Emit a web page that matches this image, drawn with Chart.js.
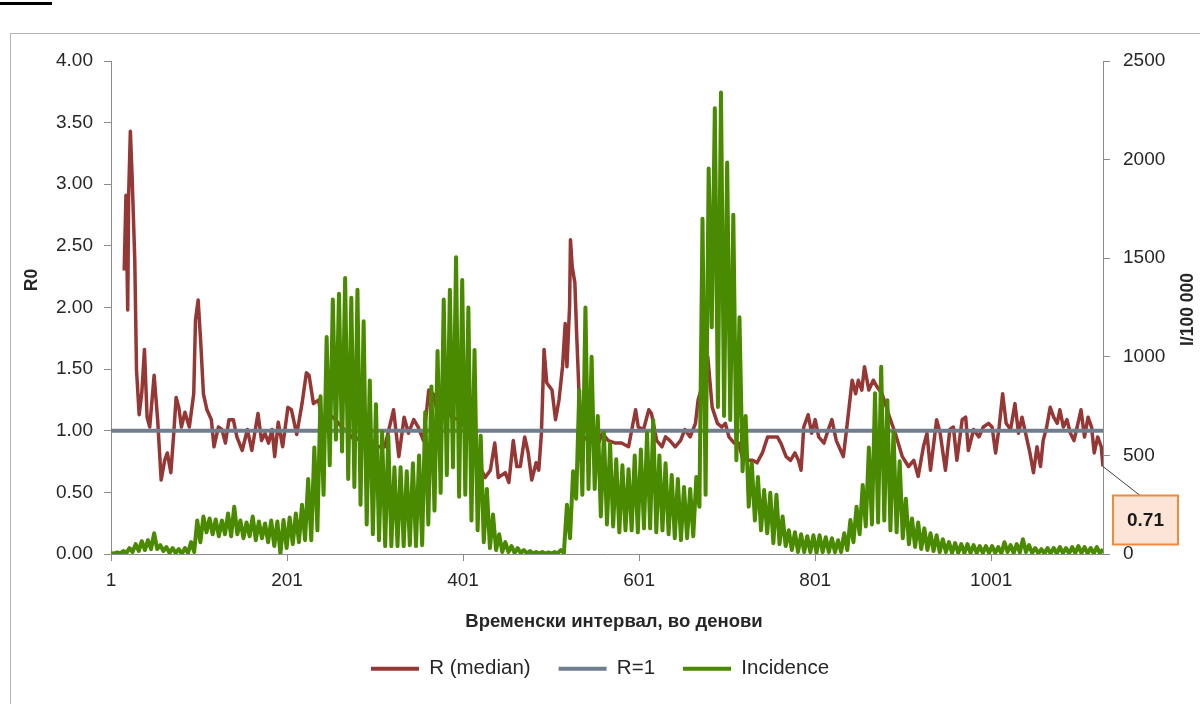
<!DOCTYPE html>
<html>
<head>
<meta charset="utf-8">
<script src="https://cdn.jsdelivr.net/npm/chart.js@4.4.1/dist/chart.umd.min.js"></script>
<style>
  html, body { margin: 0; padding: 0; background: #fff; }
  #wrap { width: 1200px; height: 704px; position: relative; }
</style>
</head>
<body>
<div id="wrap"><canvas id="chart" width="1200" height="704"></canvas></div>
<script>
// R (median): day -> value
const rDays = [
  16, 18, 20, 21, 23, 25, 28, 30, 33, 36,
  39, 42, 45, 50, 54, 58, 62, 65, 69, 72,
  75, 78, 81, 85, 90, 95, 97, 100, 103, 106,
  110, 115, 118, 123, 127, 131, 135, 140, 144, 150,
  156, 161, 168, 172, 176, 180, 184, 187, 191, 196,
  202, 206, 212, 218, 223, 226, 231, 237, 240, 248,
  256, 263, 271, 278, 290, 301, 312, 322, 328, 334,
  339, 345, 350, 356, 362, 367, 373, 381, 388, 396,
  403, 411, 418, 426, 432, 437, 441, 449, 453, 458,
  462, 466, 471, 475, 479, 484, 487, 490, 493, 496,
  502, 506, 510, 514, 517, 519, 522, 523, 525, 528,
  530, 533, 537, 547, 551, 559, 566, 574, 581, 589,
  597, 600, 606, 612, 615, 621, 627, 631, 636, 642,
  648, 653, 659, 665, 668, 674, 679, 684, 690, 695,
  699, 703, 709, 714, 718, 724, 730, 735, 741, 747,
  752, 758, 762, 768, 773, 778, 782, 785, 788, 793,
  797, 801, 805, 811, 816, 820, 825, 830, 833, 837,
  843, 847, 850, 854, 857, 862, 867, 871, 877, 886,
  892, 900, 907, 913, 918, 924, 928, 932, 939, 943,
  949, 954, 958, 962, 968, 972, 975, 981, 987, 992,
  998, 1002, 1006, 1010, 1014, 1018, 1023, 1028, 1032, 1036,
  1040, 1045, 1049, 1053, 1057, 1060, 1064, 1068, 1072, 1076,
  1079, 1083, 1087, 1091, 1095, 1098, 1103, 1107, 1111, 1115,
  1118, 1122, 1126, 1128
];
const rMedian = [
  2.30, 2.91, 1.98, 2.90, 3.43, 3.06, 2.39, 1.49, 1.13, 1.31,
  1.66, 1.11, 1.03, 1.45, 1.09, 0.60, 0.76, 0.82, 0.66, 0.95,
  1.27, 1.19, 1.03, 1.15, 1.03, 1.30, 1.90, 2.06, 1.71, 1.30,
  1.17, 1.09, 0.87, 1.03, 1.01, 0.90, 1.09, 1.09, 0.95, 0.84,
  1.01, 0.84, 1.14, 0.92, 0.98, 0.90, 1.01, 0.79, 1.07, 0.87,
  1.19, 1.17, 0.97, 1.22, 1.47, 1.45, 1.22, 1.25, 1.09, 1.14,
  1.09, 1.03, 0.98, 0.92, 0.98, 0.87, 0.87, 1.17, 0.79, 1.11,
  0.98, 1.09, 1.03, 0.92, 1.33, 1.30, 1.11, 1.19, 1.11, 1.09,
  1.03, 0.90, 0.74, 0.62, 0.68, 0.90, 0.62, 0.66, 0.58, 0.92,
  0.71, 0.71, 0.95, 0.82, 0.60, 0.74, 0.68, 0.98, 1.66, 1.39,
  1.33, 1.09, 1.25, 1.52, 1.87, 1.52, 2.01, 2.55, 2.33, 2.20,
  1.79, 1.25, 0.92, 0.98, 0.82, 0.98, 0.92, 0.90, 0.90, 0.87,
  1.17, 1.03, 1.01, 1.17, 1.14, 0.92, 0.87, 0.95, 0.92, 0.87,
  0.92, 1.01, 0.95, 1.06, 1.25, 1.40, 1.60, 1.19, 1.06, 1.03,
  1.06, 0.95, 0.90, 0.90, 0.79, 0.76, 0.76, 0.74, 0.82, 0.95,
  0.95, 0.95, 0.90, 0.79, 0.76, 0.82, 0.76, 0.68, 1.03, 1.13,
  0.98, 1.09, 0.95, 0.90, 1.01, 1.09, 0.92, 0.84, 0.79, 1.03,
  1.41, 1.30, 1.41, 1.33, 1.52, 1.33, 1.41, 1.36, 1.30, 1.10,
  0.98, 0.79, 0.71, 0.76, 0.63, 0.87, 0.98, 0.68, 1.09, 0.98,
  0.68, 1.01, 1.03, 0.76, 1.09, 1.11, 0.84, 1.01, 0.95, 1.03,
  1.06, 1.03, 0.82, 1.03, 1.30, 1.06, 1.01, 1.22, 0.98, 1.11,
  0.98, 0.82, 0.66, 0.87, 0.71, 0.92, 1.03, 1.19, 1.11, 1.06,
  1.17, 1.03, 1.09, 0.98, 0.92, 1.01, 1.17, 0.95, 1.11, 1.03,
  0.82, 0.95, 0.87, 0.71
];

// Incidence per 100 000: weekly peak (start of week) and weekly dip (mid-week)
const incHigh = [
  5, 8, 15, 30, 50, 65, 70, 105, 45, 35,
  30, 25, 30, 60, 170, 190, 180, 175, 170, 205,
  240, 170, 160, 190, 165, 155, 170, 165, 172, 185,
  205, 250, 380, 540, 800, 1100, 1290, 1320, 1400, 1300,
  1340, 1180, 880, 760, 620, 600, 440, 440, 420, 460,
  500, 720, 850, 1030, 1290, 1340, 1505, 1390, 1250, 1035,
  600, 330, 200, 100, 60, 40, 30, 20, 15, 10,
  10, 8, 10, 20, 250, 420, 830, 1250, 1000, 700,
  615, 560, 480, 450, 430, 500, 530, 615, 680, 500,
  460, 400, 380, 340, 330, 390, 1700, 1955, 2260, 2340,
  1985, 1720, 1200, 700, 460, 390, 325, 310, 300, 190,
  120, 110, 100, 90, 95, 95, 85, 80, 70, 105,
  172, 240, 350, 540, 815, 950, 780, 620, 470, 280,
  180, 160, 130, 105, 95, 75, 60, 55, 50, 50,
  45, 40, 40, 40, 35, 60, 45, 50, 75, 45,
  30, 25, 30, 30, 35, 30, 35, 40, 35, 30,
  35, 25
];
const incLow = [
  2, 3, 5, 10, 15, 20, 25, 25, 15, 5,
  5, 0, 5, 10, 60, 110, 100, 90, 100, 90,
  100, 80, 90, 70, 80, 60, 40, 0, 30, 50,
  60, 70, 70, 120, 300, 450, 580, 520, 380, 340,
  250, 150, 100, 70, 40, 40, 40, 40, 45, 40,
  45, 150, 220, 310, 400, 440, 290, 300, 170, 120,
  60, 30, 20, 10, 10, 5, 5, 3, 2, 2,
  2, 2, 3, 5, 80, 280, 300, 330, 330, 190,
  150, 140, 110, 120, 120, 110, 130, 130, 110, 120,
  100, 80, 70, 80, 90, 240, 300, 1150, 745, 700,
  680, 475, 420, 240, 170, 120, 105, 55, 50, 40,
  20, 10, 10, 10, 5, 10, 10, 10, 10, 20,
  60, 100, 140, 150, 160, 170, 120, 110, 80, 50,
  36, 25, 20, 15, 10, 10, 5, 5, 5, 5,
  5, 5, 5, 5, 3, 10, 5, 8, 10, 5,
  3, 3, 3, 3, 5, 3, 5, 5, 3, 3,
  3
];

const rOne = 1;
const xTicks = [1, 201, 401, 601, 801, 1001];
const seriesNames = ['R (median)', 'R=1', 'Incidence'];
const xTitle = 'Временски интервал, во денови';
const yLeftTitle = 'R0';
const yRightTitle = 'I/100 000';

const DAY_MIN = 1, DAY_MAX = 1128;
const FONT = "'Liberation Sans', Arial, sans-serif";
const COLORS = { r: '#953735', one: '#6f7e8e', inc: '#4a8a00', axis: '#8c8c8c', text: '#262626' };

const rPoints = rDays.map((d, i) => ({ x: d, y: rMedian[i] }));
const onePoints = [{ x: DAY_MIN, y: rOne }, { x: DAY_MAX, y: rOne }];
const incPoints = [];
incHigh.forEach((v, w) => {
  incPoints.push({ x: 1 + 7 * w, y: v });
  if (incLow[w] != null) incPoints.push({ x: 4.5 + 7 * w, y: incLow[w] });
});

// frame, rotated titles and the 0.71 callout
const decor = {
  id: 'decor',
  beforeDraw(chart) {
    const { ctx } = chart;
    ctx.save();
    ctx.fillStyle = '#fff';
    ctx.fillRect(0, 0, chart.width, chart.height);
    ctx.strokeStyle = '#b5b5b5';
    ctx.lineWidth = 1;
    ctx.strokeRect(10.5, 33.5, chart.width + 20, chart.height + 20);
    ctx.fillStyle = '#000';
    ctx.fillRect(0, 2, 52, 3);
    ctx.restore();
  },
  afterDraw(chart) {
    const { ctx, chartArea: a } = chart;
    ctx.save();
    ctx.fillStyle = COLORS.text;
    ctx.font = `bold 18.5px ${FONT}`;
    ctx.textAlign = 'center';
    ctx.textBaseline = 'middle';
    ctx.fillText(xTitle, (a.left + a.right) / 2 + 7, a.bottom + 68);

    ctx.font = `bold 17.5px ${FONT}`;
    ctx.save();
    ctx.translate(32, a.top + 219);
    ctx.rotate(-Math.PI / 2);
    ctx.fillText(yLeftTitle, 0, 0);
    ctx.restore();

    ctx.save();
    ctx.translate(1188, (a.top + a.bottom) / 2 + 2);
    ctx.rotate(-Math.PI / 2);
    ctx.fillText(yRightTitle, 0, 0);
    ctx.restore();

    const meta = chart.getDatasetMeta(0);
    const last = meta.data[meta.data.length - 1];
    const bx = last.x + 10, by = last.y + 29, bw = 65, bh = 49;
    ctx.strokeStyle = '#404040';
    ctx.lineWidth = 1;
    ctx.beginPath();
    ctx.moveTo(last.x, last.y);
    ctx.lineTo(bx + 27, by);
    ctx.stroke();
    ctx.fillStyle = '#fce4d6';
    ctx.fillRect(bx, by, bw, bh);
    ctx.strokeStyle = '#f08a3c';
    ctx.lineWidth = 2;
    ctx.strokeRect(bx, by, bw, bh);
    ctx.fillStyle = '#1a1a1a';
    ctx.font = `bold 19px ${FONT}`;
    ctx.fillText(rMedian[rMedian.length - 1].toFixed(2), bx + bw / 2, by + bh / 2 + 1);
    ctx.restore();
  }
};

const axisGrid = { drawOnChartArea: false, drawTicks: true, tickLength: 7, color: COLORS.axis };
const axisBorder = { color: COLORS.axis, width: 1 };
const tickFont = { family: FONT, size: 19 };

new Chart(document.getElementById('chart'), {
  type: 'line',
  data: {
    datasets: [
      { label: seriesNames[0], data: rPoints, yAxisID: 'yR', borderColor: COLORS.r, backgroundColor: COLORS.r,
        borderWidth: 3.5, pointRadius: 0, tension: 0, borderJoinStyle: 'round', order: 3 },
      { label: seriesNames[1], data: onePoints, yAxisID: 'yR', borderColor: COLORS.one, backgroundColor: COLORS.one,
        borderWidth: 4, pointRadius: 0, order: 2 },
      { label: seriesNames[2], data: incPoints, yAxisID: 'yI', borderColor: COLORS.inc, backgroundColor: COLORS.inc,
        borderWidth: 4, pointRadius: 0, tension: 0, borderJoinStyle: 'round', order: 1 },
    ],
  },
  options: {
    responsive: false,
    animation: false,
    layout: { padding: { top: 61, bottom: 15, left: 0, right: 0 } },
    plugins: {
      tooltip: { enabled: false },
      legend: {
        position: 'bottom',
        labels: {
          font: { family: FONT, size: 20.5 },
          color: COLORS.text,
          boxWidth: 48,
          boxHeight: 4,
          padding: 28,
          sort: (a, b) => a.datasetIndex - b.datasetIndex,
          generateLabels: (chart) => Chart.defaults.plugins.legend.labels.generateLabels(chart)
            .map((l) => ({ ...l, lineWidth: 0 })),
        },
      },
    },
    scales: {
      x: {
        type: 'linear', min: DAY_MIN, max: DAY_MAX,
        afterBuildTicks: (s) => { s.ticks = xTicks.map((v) => ({ value: v })); },
        afterFit: (s) => { s.height = 76.5; },
        grid: axisGrid, border: axisBorder,
        ticks: { font: tickFont, color: COLORS.text, padding: 8, autoSkip: false, maxRotation: 0,
          callback: (v) => String(v) },
      },
      yR: {
        position: 'left', min: 0, max: 4,
        afterFit: (s) => { s.width = 111; },
        grid: axisGrid, border: axisBorder,
        ticks: { font: tickFont, color: COLORS.text, stepSize: 0.5, padding: 11, callback: (v) => v.toFixed(2) },
      },
      yI: {
        position: 'right', min: 0, max: 2500,
        afterFit: (s) => { s.width = 97; },
        grid: axisGrid, border: axisBorder,
        ticks: { font: tickFont, color: COLORS.text, stepSize: 500, padding: 13, callback: (v) => String(v) },
      },
    },
  },
  plugins: [decor],
});
</script>
</body>
</html>
